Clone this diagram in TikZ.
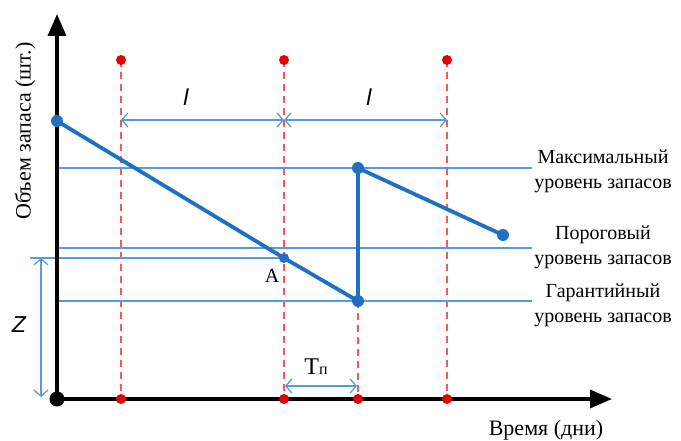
\documentclass[tikz,border=0pt]{standalone}
\usepackage{fontspec}
\setmainfont{Liberation Serif}
\newfontfamily\sansf{Liberation Sans}
\usetikzlibrary{arrows.meta}
\definecolor{dblue}{RGB}{31,112,192}
\definecolor{lblue}{RGB}{91,155,213}
\definecolor{dred}{RGB}{230,0,0}
\definecolor{lred}{RGB}{240,90,90}
\begin{document}
\begin{tikzpicture}[x=1pt,y=-1pt,
  lvl/.style={draw=lblue, line width=1.4pt},
  thick line/.style={draw=dblue, line width=3.8pt, line join=round},
  reddash/.style={draw=lred, line width=1.4pt, dash pattern=on 7pt off 5pt},
  reddot/.style={circle, fill=dred, inner sep=0pt, minimum size=10pt},
  bluedot/.style={circle, fill=dblue, inner sep=0pt, minimum size=12pt},
  dim/.style={draw=lblue, line width=1.3pt, {Straight Barb[length=6pt,width=14pt]}-{Straight Barb[length=6pt,width=14pt]}},
  axis/.style={draw=black, line width=3.5pt, -{Triangle[length=22pt,width=18pt]}},
  lbl/.style={font=\fontsize{20}{25}\selectfont, align=center, inner sep=0pt},
  big/.style={font=\fontsize{22}{26}\selectfont, inner sep=0pt},
  sl/.style={font=\sansf\itshape\fontsize{23}{26}\selectfont, inner sep=0pt}]
\useasboundingbox (0,0) rectangle (681,441);
% coordinates
\coordinate (O) at (57,399);
\coordinate (Ytop) at (57,14);
\coordinate (Xend) at (612,399);
\coordinate (P0) at (57,121);
\coordinate (A) at (284,258);
\coordinate (P1) at (358,301);
\coordinate (P2) at (358,168);
\coordinate (P3) at (503,235);
% red dashed verticals
\foreach \n/\x in {1/121,2/284,3/358,4/447}{
  \coordinate (B\n) at (\x,399);
  \coordinate (T\n) at (\x,60);
}
\draw[reddash] (T1) -- (B1);
\draw[reddash] (T2) -- (B2);
\draw[reddash] (P1) -- (B3);
\draw[reddash] (T4) -- (B4);
% level lines
\coordinate (M0) at (57,168); \coordinate (M1) at (532,168);
\coordinate (R0) at (57,248); \coordinate (R1) at (532,248);
\coordinate (G0) at (57,301); \coordinate (G1) at (532,301);
\coordinate (Z0) at (30,258);
\draw[lvl] (M0) -- (M1);
\draw[lvl] (R0) -- (R1);
\draw[lvl] (G0) -- (G1);
\draw[lvl] (Z0) -- (A);
% dimension arrows
\coordinate (L1) at (121,120); \coordinate (L2) at (284,120); \coordinate (L3) at (447,120);
\draw[dim] (L1) -- (L2);
\draw[dim] (L2) -- (L3);
\coordinate (Za) at (41,258); \coordinate (Zb) at (41,397);
\draw[dim] (Za) -- (Zb);
\coordinate (Ta) at (285,386); \coordinate (Tb) at (357,386);
\draw[dim] (Ta) -- (Tb);
% axes
\draw[axis] (O) -- (Ytop);
\draw[axis] (O) -- (Xend);
% stock line
\draw[thick line] (P0) -- (A) -- (P1) -- (P2) -- (P3);
% dots
\node[circle, fill=black, inner sep=0pt, minimum size=15pt] (Od) at (O) {};
\foreach \n in {1,2,3,4}{\node[reddot] (bd\n) at (B\n) {};}
\foreach \n in {1,2,4}{\node[reddot] (td\n) at (T\n) {};}
\node[bluedot] (d0) at (P0) {};
\node[circle, fill=dblue, inner sep=0pt, minimum size=10pt] (dA) at (A) {};
\node[bluedot] (d1) at (P1) {};
\node[bluedot] (d2) at (P2) {};
\node[bluedot] (d3) at (P3) {};
% labels
\node[sl] (l1) at (186,97) {l};
\node[sl] (l2) at (369,97) {l};
\node[sl] (zl) at (19,325) {Z};
\node[lbl] (Al) at (272,276) {A};
\node[inner sep=0pt, font=\fontsize{24}{26}\selectfont] (Tl) at (316,367) {T{\fontsize{16}{18}\selectfont п}};
\node[lbl] (mx) at (603,171) {Максимальный\\уровень запасов};
\node[lbl] (pr) at (603,247) {Пороговый\\уровень запасов};
\node[lbl] (gr) at (603,305) {Гарантийный\\уровень запасов};
\node[big] (xl) at (546,430) {Время (дни)};
\node[big, rotate=90] (yl) at (25,131) {Объем запаса (шт.)};
\end{tikzpicture}
\end{document}
